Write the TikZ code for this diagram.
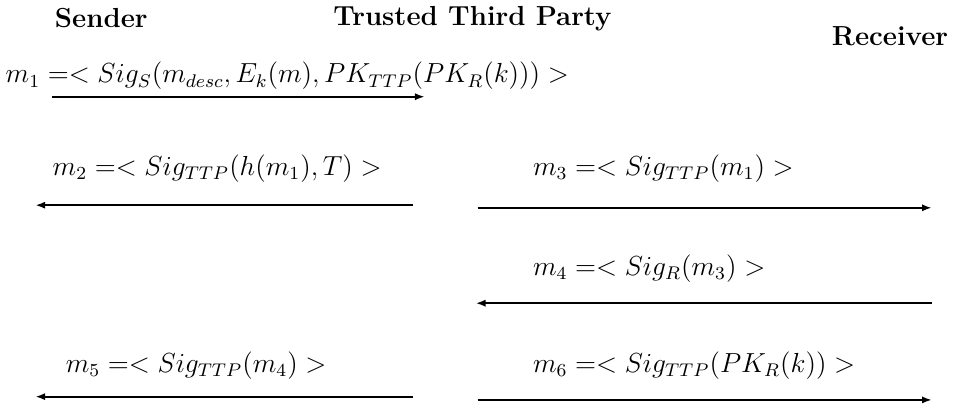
\documentclass[tikz,border=0pt]{standalone}
\usepackage{amsmath,amssymb}
\usepackage{tikz}
\usetikzlibrary{arrows.meta,positioning}

\begin{document}
\begin{tikzpicture}[
    >={Latex[length=1.5mm,width=1.1mm]},
    msg/.style={->, line width=0.9pt},
    party/.style={font=\bfseries\large},
    lbl/.style={font=\large, inner sep=0pt, anchor=base west}
]

\useasboundingbox (0,0) rectangle (14.63,-6.2);

\node[party] (sender) at (1.55,-0.28) {Sender};
\node[party] (ttp) at (7.23,-0.28) {Trusted Third Party};
\node[party] (receiver) at (13.62,-0.56) {Receiver};

\node[lbl] (m1) at (0.08,-1.27)
    {$m_1 =< Sig_S(m_{desc}, E_k(m), PK_{TTP}(PK_R(k))) >$};
\coordinate (s1) at (0.80,-1.48);
\coordinate (t1) at (6.50,-1.48);
\draw[msg] (s1) -- (t1);

\node[lbl] (m2) at (0.80,-2.69) {$m_2 =< Sig_{TTP}(h(m_1), T) >$};
\coordinate (t2) at (6.32,-3.14);
\coordinate (s2) at (0.54,-3.14);
\draw[msg] (t2) -- (s2);

\node[lbl] (m3) at (8.15,-2.69) {$m_3 =< Sig_{TTP}(m_1) >$};
\coordinate (t3) at (7.31,-3.18);
\coordinate (r3) at (14.26,-3.18);
\draw[msg] (t3) -- (r3);

\node[lbl] (m4) at (8.15,-4.21) {$m_4 =< Sig_R(m_3) >$};
\coordinate (r4) at (14.26,-4.64);
\coordinate (t4) at (7.28,-4.64);
\draw[msg] (r4) -- (t4);

\node[lbl] (m5) at (1.00,-5.70) {$m_5 =< Sig_{TTP}(m_4) >$};
\coordinate (t5) at (6.32,-6.07);
\coordinate (s5) at (0.54,-6.07);
\draw[msg] (t5) -- (s5);

\node[lbl] (m6) at (8.15,-5.70) {$m_6 =< Sig_{TTP}(PK_R(k)) >$};
\coordinate (t6) at (7.31,-6.12);
\coordinate (r6) at (14.26,-6.12);
\draw[msg] (t6) -- (r6);

\end{tikzpicture}
\end{document}
